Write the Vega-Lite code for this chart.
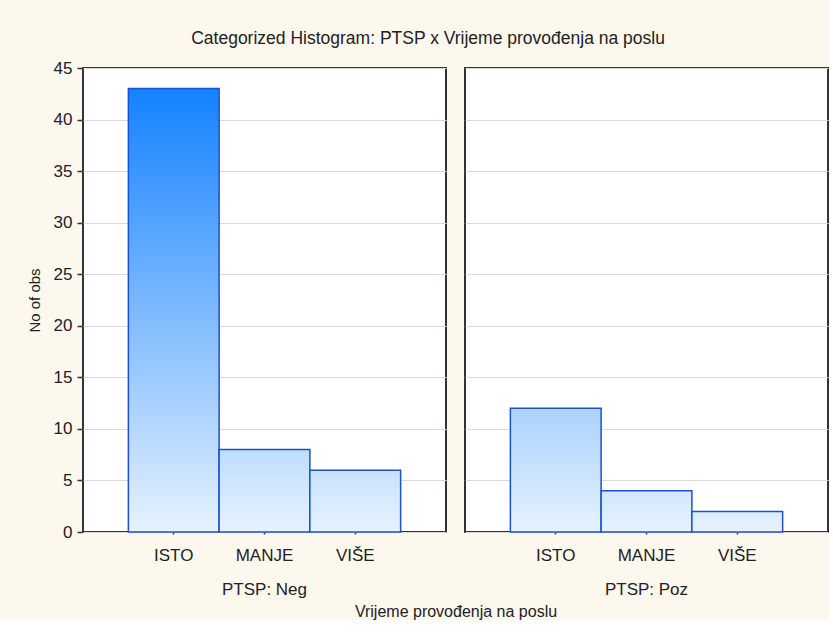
{
  "$schema": "https://vega.github.io/schema/vega-lite/v6.json",
  "background": "#fdf8ee",
  "padding": {"left": 27, "top": 29, "right": 0, "bottom": 0},
  "title": {
    "text": "Categorized Histogram: PTSP x Vrijeme provođenja na poslu",
    "font": "Liberation Sans",
    "fontSize": 17.5,
    "fontWeight": "normal",
    "color": "#222222",
    "anchor": "middle",
    "offset": 12
  },
  "data": {
    "values": [
      {"PTSP": "Neg", "kategorija": "ISTO", "broj": 43},
      {"PTSP": "Neg", "kategorija": "MANJE", "broj": 8},
      {"PTSP": "Neg", "kategorija": "VIŠE", "broj": 6},
      {"PTSP": "Poz", "kategorija": "ISTO", "broj": 12},
      {"PTSP": "Poz", "kategorija": "MANJE", "broj": 4},
      {"PTSP": "Poz", "kategorija": "VIŠE", "broj": 2}
    ]
  },
  "facet": {
    "column": {
      "field": "PTSP",
      "type": "nominal",
      "title": "Vrijeme provođenja na poslu",
      "header": {
        "labelOrient": "bottom",
        "titleOrient": "bottom",
        "labelExpr": "'PTSP: ' + datum.value",
        "labelFont": "Liberation Sans",
        "labelFontSize": 17,
        "labelColor": "#222222",
        "labelPadding": 19,
        "titleFont": "Liberation Sans",
        "titleFontSize": 16,
        "titleFontWeight": "normal",
        "titleColor": "#222222",
        "titlePadding": -4
      }
    }
  },
  "spacing": 17,
  "spec": {
    "width": 363,
    "height": 464,
    "mark": {"type": "bar", "stroke": "#1b50d2", "strokeWidth": 1.5},
    "encoding": {
      "x": {
        "field": "kategorija",
        "type": "nominal",
        "sort": ["ISTO", "MANJE", "VIŠE"],
        "scale": {"paddingInner": 0, "paddingOuter": 0.5},
        "axis": {
          "title": null,
          "labelAngle": 0,
          "labelFont": "Liberation Sans",
          "labelFontSize": 17,
          "labelColor": "#222222",
          "tickColor": "#333333",
          "tickSize": -5,
          "tickWidth": 1.5,
          "labelPadding": 18,
          "domain": false,
          "grid": false
        }
      },
      "y": {
        "field": "broj",
        "type": "quantitative",
        "scale": {"domain": [0, 45], "nice": false},
        "axis": {
          "title": "No of obs",
          "values": [0, 5, 10, 15, 20, 25, 30, 35, 40, 45],
          "titleFont": "Liberation Sans",
          "titleFontSize": 15,
          "titleFontWeight": "normal",
          "titleColor": "#222222",
          "titlePadding": 11,
          "labelFont": "Liberation Sans",
          "labelFontSize": 17,
          "labelColor": "#222222",
          "labelPadding": 5,
          "tickColor": "#333333",
          "tickSize": 5,
          "tickWidth": 1.5,
          "domain": false,
          "gridColor": "#d9d9d9",
          "gridWidth": 1.2
        }
      },
      "fill": {
        "condition": [
          {"test": "datum.broj == 43", "value": {"gradient": "linear", "x1": 0, "x2": 0, "y1": 0, "y2": 1, "stops": [{"offset": 0, "color": "#1481ff"}, {"offset": 1, "color": "#e6f2fd"}]}},
          {"test": "datum.broj == 12", "value": {"gradient": "linear", "x1": 0, "x2": 0, "y1": 0, "y2": 1, "stops": [{"offset": 0, "color": "#abd2fd"}, {"offset": 1, "color": "#e6f2fd"}]}},
          {"test": "datum.broj == 8", "value": {"gradient": "linear", "x1": 0, "x2": 0, "y1": 0, "y2": 1, "stops": [{"offset": 0, "color": "#bfddfd"}, {"offset": 1, "color": "#e6f2fd"}]}},
          {"test": "datum.broj == 6", "value": {"gradient": "linear", "x1": 0, "x2": 0, "y1": 0, "y2": 1, "stops": [{"offset": 0, "color": "#c9e2fd"}, {"offset": 1, "color": "#e6f2fd"}]}},
          {"test": "datum.broj == 4", "value": {"gradient": "linear", "x1": 0, "x2": 0, "y1": 0, "y2": 1, "stops": [{"offset": 0, "color": "#d2e8fd"}, {"offset": 1, "color": "#e6f2fd"}]}}
        ],
        "value": {"gradient": "linear", "x1": 0, "x2": 0, "y1": 0, "y2": 1, "stops": [{"offset": 0, "color": "#dcedfd"}, {"offset": 1, "color": "#e6f2fd"}]}
      }
    }
  },
  "config": {
    "view": {"stroke": "#333333", "strokeWidth": 2, "fill": "#ffffff"}
  }
}
